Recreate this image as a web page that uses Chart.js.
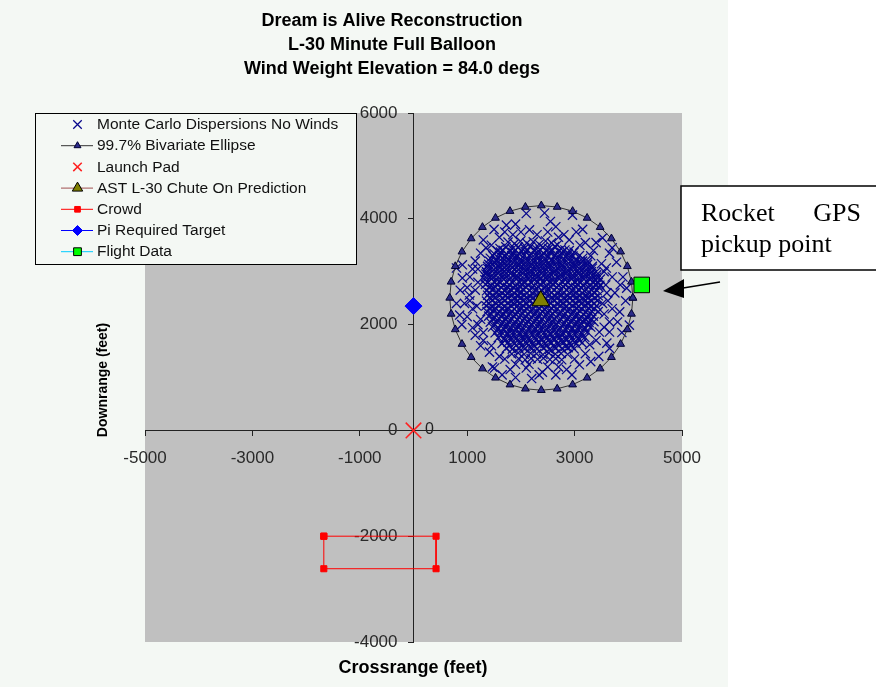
<!DOCTYPE html>
<html lang="en">
<head>
  <meta charset="UTF-8" />
  <title>Dream is Alive Reconstruction</title>
  <script src="https://cdn.jsdelivr.net/npm/chart.js"></script>
  <style>
    body { margin: 0; background: #fff; }
    #wrap { position: relative; width: 876px; height: 687px; }
  </style>
</head>
<body>
  <div id="wrap"><canvas id="chart" width="876" height="687"></canvas></div>

  <script>
    const titleLines = ['Dream is Alive Reconstruction', 'L-30 Minute Full Balloon', 'Wind Weight Elevation = 84.0 degs'];
    const xTitle = 'Crossrange (feet)';
    const yTitle = 'Downrange (feet)';
    const xTicks = [-5000, -3000, -1000, 1000, 3000, 5000];
    const yTicks = [-4000, -2000, 0, 2000, 4000, 6000];

    // Monte Carlo impact points (x = crossrange, y = downrange)
    const monteCarlo = [
      [1760,3560],[1880,3530],[1990,3575],[2110,3540],[2230,3565],[2340,3520],[2460,3580],[2570,3545],[2680,3510],
      [1610,3440],[1720,3470],[1840,3430],[1950,3465],[2070,3445],[2180,3480],[2290,3425],[2410,3460],[2520,3440],[2630,3475],[2750,3430],
      [1500,3340],[1620,3370],[1730,3335],[1850,3360],[1960,3345],[2080,3380],[2190,3330],[2300,3365],[2420,3350],[2530,3375],[2650,3335],[2760,3360],[2880,3345],[2990,3370],
      [1430,3255],[1540,3230],[1660,3265],[1770,3245],[1890,3275],[2000,3235],[2110,3260],[2230,3240],[2340,3270],[2450,3250],[2570,3230],[2680,3265],[2800,3245],[2910,3270],[3030,3235],[3150,3255],
      [1400,3140],[1510,3165],[1630,3150],[1740,3130],[1860,3170],[1970,3145],[2090,3160],[2200,3135],[2310,3165],[2430,3150],[2540,3140],[2660,3170],[2770,3135],[2890,3160],[3000,3145],[3120,3170],[3240,3140],
      [1380,3060],[1490,3035],[1610,3065],[1720,3045],[1840,3070],[1950,3040],[2060,3055],[2180,3030],[2290,3065],[2410,3050],[2520,3070],[2640,3040],[2750,3060],[2870,3035],[2980,3065],[3100,3050],[3210,3040],[3330,3065],
      [1350,2955],[1460,2935],[1580,2965],[1690,2945],[1810,2960],[1920,2930],[2040,2965],[2150,2950],[2270,2940],[2380,2960],[2500,2935],[2610,2965],[2730,2945],[2840,2960],[2960,2935],[3070,2955],[3190,2945],[3300,2965],[3410,2940],
      [1330,2845],[1450,2865],[1560,2840],[1680,2860],[1790,2850],[1910,2870],[2020,2835],[2140,2860],[2250,2845],[2370,2865],[2480,2850],[2600,2835],[2710,2865],[2830,2845],[2940,2860],[3060,2840],[3170,2865],[3290,2850],[3400,2840],[3480,2860],
      [1340,2760],[1440,2735],[1550,2765],[1670,2745],[1780,2755],[1900,2730],[2010,2765],[2130,2750],[2240,2740],[2360,2760],[2470,2735],[2590,2765],[2700,2745],[2820,2755],[2930,2735],[3050,2765],[3160,2750],[3280,2740],[3390,2760],[3470,2745],
      [1360,2640],[1470,2665],[1580,2650],[1700,2635],[1810,2660],[1930,2645],[2040,2670],[2160,2640],[2270,2655],[2390,2635],[2500,2665],[2620,2650],[2730,2640],[2850,2660],[2960,2645],[3080,2665],[3190,2635],[3310,2655],[3420,2645],
      [1380,2555],[1490,2535],[1610,2560],[1720,2545],[1840,2565],[1950,2540],[2070,2555],[2180,2530],[2300,2560],[2410,2545],[2530,2565],[2640,2535],[2760,2555],[2870,2540],[2990,2565],[3100,2550],[3220,2535],[3330,2560],[3440,2545],
      [1360,2445],[1470,2465],[1590,2440],[1700,2460],[1820,2450],[1930,2435],[2050,2465],[2160,2445],[2280,2460],[2390,2440],[2510,2455],[2620,2465],[2740,2435],[2850,2450],[2970,2460],[3080,2440],[3200,2465],[3310,2445],[3430,2455],
      [1350,2355],[1460,2335],[1580,2360],[1690,2345],[1810,2365],[1920,2340],[2040,2355],[2150,2330],[2270,2360],[2380,2345],[2500,2365],[2610,2340],[2730,2355],[2840,2335],[2960,2360],[3070,2345],[3190,2365],[3300,2340],[3410,2355],
      [1370,2245],[1480,2265],[1600,2240],[1710,2260],[1830,2250],[1940,2235],[2060,2265],[2170,2245],[2290,2255],[2400,2240],[2520,2265],[2630,2250],[2750,2235],[2860,2260],[2980,2245],[3090,2265],[3210,2240],[3320,2255],[3440,2245],
      [1400,2160],[1510,2135],[1630,2155],[1740,2145],[1860,2165],[1970,2140],[2090,2155],[2200,2130],[2320,2160],[2430,2145],[2550,2165],[2660,2140],[2780,2155],[2890,2135],[3010,2160],[3120,2150],[3240,2135],[3350,2160],
      [1430,2045],[1540,2065],[1660,2040],[1770,2060],[1890,2050],[2000,2035],[2120,2065],[2230,2045],[2350,2055],[2460,2040],[2580,2065],[2690,2050],[2810,2035],[2920,2060],[3040,2045],[3150,2065],[3270,2040],[3360,2055],
      [1470,1955],[1580,1935],[1700,1960],[1810,1945],[1930,1965],[2040,1940],[2160,1955],[2270,1930],[2390,1960],[2500,1945],[2620,1965],[2730,1940],[2850,1955],[2960,1935],[3080,1960],[3190,1945],[3300,1955],
      [1520,1845],[1630,1865],[1750,1840],[1860,1860],[1980,1850],[2090,1835],[2210,1865],[2320,1845],[2440,1855],[2550,1840],[2670,1865],[2780,1850],[2900,1835],[3010,1860],[3130,1845],[3240,1860],
      [1580,1755],[1690,1735],[1810,1760],[1920,1745],[2040,1765],[2150,1740],[2270,1755],[2380,1730],[2500,1760],[2610,1745],[2730,1765],[2840,1740],[2960,1755],[3070,1735],[3190,1760],
      [1650,1645],[1760,1665],[1880,1640],[1990,1660],[2110,1650],[2220,1635],[2340,1665],[2450,1645],[2570,1655],[2680,1640],[2800,1665],[2910,1650],[3030,1635],[3140,1655],
      [1730,1555],[1840,1535],[1960,1560],[2070,1545],[2190,1565],[2300,1540],[2420,1555],[2530,1530],[2650,1560],[2760,1545],[2880,1565],[2990,1540],
      [1830,1445],[1950,1465],[2060,1440],[2180,1460],[2290,1450],[2410,1435],[2520,1465],[2640,1445],[2750,1455],[2870,1440],
      [1960,1355],[2080,1335],[2190,1360],[2310,1345],[2420,1365],[2540,1340],[2650,1355],[2760,1335],
      [1560,3400],[1670,3405],[1790,3395],[1900,3410],[2010,3390],[2130,3405],[2240,3400],[2360,3410],[2470,3395],[2590,3405],[2700,3390],[2820,3410],[2900,3400],
      [1480,3300],[1600,3310],[1710,3295],[1830,3305],[1940,3290],[2060,3310],[2170,3300],[2290,3295],[2400,3310],[2510,3290],[2630,3305],[2740,3300],[2860,3310],[2970,3295],[3090,3305],
      [1420,3195],[1540,3205],[1650,3190],[1770,3210],[1880,3200],[2000,3195],[2110,3210],[2230,3190],[2340,3205],[2460,3200],[2570,3210],[2690,3195],[2800,3205],[2920,3190],[3030,3210],[3150,3200],[3250,3195],
      [1380,3100],[1500,3110],[1610,3095],[1730,3105],[1840,3090],[1960,3110],[2070,3100],[2190,3095],[2300,3110],[2420,3090],[2530,3105],[2650,3100],[2760,3110],[2880,3095],[2990,3105],[3110,3090],[3220,3110],[3330,3100],
      [1360,3000],[1470,3010],[1590,2995],[1700,3005],[1820,2990],[1930,3010],[2050,3000],[2160,2995],[2280,3010],[2390,2990],[2510,3005],[2620,3000],[2740,3010],[2850,2995],[2970,3005],[3080,2990],[3200,3010],[3310,3000],[3400,2995],
      [1340,2900],[1450,2910],[1570,2895],[1680,2905],[1800,2890],[1910,2910],[2030,2900],[2140,2895],[2260,2910],[2370,2890],[2490,2905],[2600,2900],[2720,2910],[2830,2895],[2950,2905],[3060,2890],[3180,2910],[3290,2900],[3410,2895],
      [1390,2800],[1500,2810],[1620,2795],[1730,2805],[1850,2790],[1960,2810],[2080,2800],[2190,2795],[2310,2810],[2420,2790],[2540,2805],[2650,2800],[2770,2810],[2880,2795],[3000,2805],[3110,2790],[3230,2810],[3340,2800],[3440,2795],
      [1410,2700],[1520,2710],[1640,2695],[1750,2705],[1870,2690],[1980,2710],[2100,2700],[2210,2695],[2330,2710],[2440,2690],[2560,2705],[2670,2700],[2790,2710],[2900,2695],[3020,2705],[3130,2690],[3250,2710],[3360,2700],[3450,2705],
      [1420,2600],[1530,2610],[1650,2595],[1760,2605],[1880,2590],[1990,2610],[2110,2600],[2220,2595],[2340,2610],[2450,2590],[2570,2605],[2680,2600],[2800,2610],[2910,2595],[3030,2605],[3140,2590],[3260,2610],[3370,2600],
      [1420,2500],[1530,2510],[1650,2495],[1760,2505],[1880,2490],[1990,2510],[2110,2500],[2220,2495],[2340,2510],[2450,2490],[2570,2505],[2680,2500],[2800,2510],[2910,2495],[3030,2505],[3140,2490],[3260,2510],[3370,2500],
      [1410,2400],[1520,2410],[1640,2395],[1750,2405],[1870,2390],[1980,2410],[2100,2400],[2210,2395],[2330,2410],[2440,2390],[2560,2405],[2670,2400],[2790,2410],[2900,2395],[3020,2405],[3130,2390],[3250,2410],[3360,2400],
      [1420,2300],[1530,2310],[1650,2295],[1760,2305],[1880,2290],[1990,2310],[2110,2300],[2220,2295],[2340,2310],[2450,2290],[2570,2305],[2680,2300],[2800,2310],[2910,2295],[3030,2305],[3140,2290],[3260,2310],[3370,2300],
      [1450,2200],[1560,2210],[1680,2195],[1790,2205],[1910,2190],[2020,2210],[2140,2200],[2250,2195],[2370,2210],[2480,2190],[2600,2205],[2710,2200],[2830,2210],[2940,2195],[3060,2205],[3170,2190],[3290,2210],
      [1480,2100],[1600,2110],[1710,2095],[1830,2105],[1940,2090],[2060,2110],[2170,2100],[2290,2095],[2400,2110],[2520,2090],[2630,2105],[2750,2100],[2860,2110],[2980,2095],[3090,2105],[3210,2090],[3310,2100],
      [1520,2000],[1640,2010],[1750,1995],[1870,2005],[1980,1990],[2100,2010],[2210,2000],[2330,1995],[2440,2010],[2560,1990],[2670,2005],[2790,2000],[2900,2010],[3020,1995],[3130,2005],[3250,1990],
      [1570,1900],[1690,1910],[1800,1895],[1920,1905],[2030,1890],[2150,1910],[2260,1900],[2380,1895],[2490,1910],[2610,1890],[2720,1905],[2840,1900],[2950,1910],[3070,1895],[3180,1905],
      [1630,1800],[1750,1810],[1860,1795],[1980,1805],[2090,1790],[2210,1810],[2320,1800],[2440,1795],[2550,1810],[2670,1790],[2780,1805],[2900,1800],[3010,1810],[3120,1795],
      [1700,1700],[1820,1710],[1930,1695],[2050,1705],[2160,1690],[2280,1710],[2390,1700],[2510,1695],[2620,1710],[2740,1690],[2850,1705],[2970,1700],[3080,1710],
      [1790,1600],[1910,1610],[2020,1595],[2140,1605],[2250,1590],[2370,1610],[2480,1600],[2600,1595],[2710,1610],[2830,1590],[2940,1605],
      [1730,3880],[2160,3790],[910,3130],[910,2880],[1360,2990],[2100,4100],[2440,4110],[2960,4070],[3030,3750],[3520,3640],
      [3590,3070],[3970,2690],[3780,3180],[1100,1940],[1415,1480],[1470,1200],[860,2180],[3650,1860],[3090,1240],[3280,1620],
      [3840,2240],[2400,1100],[3460,1860],[2100,1180],[1510,1180],[2340,1050],[4020,1990],[800,3070],[1040,2560],[1250,3350],
      [1150,3200],[1300,3600],[1500,3800],[1900,3900],[2650,3850],[2800,3700],[3200,3550],[3350,3400],[3650,3350],[3700,2900],
      [3750,2600],[3620,2450],[3800,2050],[3600,1650],[3450,1400],[3300,1300],[2850,1150],[2650,1050],[2200,980],[1800,1150],
      [1700,1350],[1250,1600],[1150,1800],[1000,2150],[950,2400],[1150,2650],[1050,2900],[1200,2800],[1180,2350],[1250,2100],
      [1300,1850],[3550,2200],[3580,2750],[3500,3150],[3400,3550],[2550,3950],[2300,3700],[1850,3700],[1450,3500],[1200,3050],
      [3900,2900],[3700,3450],[3150,3800],[1650,1050],[2950,1050],[3650,1550],[870,2650],[3880,1850],[1900,1000],
      [1000,2700],[1100,3050],[1350,3450],[1600,3650],[1700,3750],[2000,3750],[2500,3750],[2700,3650],[2900,3600],[3100,3500],
      [3300,3300],[3550,3000],[3600,2600],[3520,2400],[3700,2300],[3550,1950],[3400,1700],[3200,1450],[3000,1350],[2700,1200],
      [2500,1200],[2150,1250],[1900,1250],[1600,1400],[1450,1600],[1300,1700],[1200,2000],[1100,2300],[1050,2450],[3650,2050],
      [3950,2450],[3850,2750],[800,2400],[900,2000]
    ];

    // 99.7% bivariate ellipse, one vertex every 10 degrees
    const ellipseX = [4085,4059,3982,3857,3686,3476,3233,2963,2676,2380,2084,1797,1527,1284,1074,903,778,701,675,
                      701,778,903,1074,1284,1527,1797,2084,2380,2676,2963,3233,3476,3686,3857,3982,4059,4085];
    const ellipseY = [2505,2808,3102,3378,3627,3842,4016,4145,4223,4250,4223,4145,4016,3842,3627,3378,3102,2808,2505,
                      2202,1908,1632,1383,1168,994,865,787,760,787,865,994,1168,1383,1632,1908,2202,2505];

    const launchPad = [0, 0];
    const chutePrediction = [2370, 2450];
    const crowdX = [-1670, 420, 420, -1670, -1670];
    const crowdY = [-2000, -2000, -2615, -2615, -2000];
    const piTarget = [0, 2350];
    const flightData = [4250, 2750];

    const pts = (xs, ys) => xs.map((x, i) => ({ x, y: ys[i] }));

    const datasets = [
      {
        label: 'Monte Carlo Dispersions No Winds',
        data: monteCarlo.map(([x, y]) => ({ x, y })),
        showLine: false, pointStyle: 'crossRot', pointRadius: 6.5, borderWidth: 1.25,
        borderColor: '#06068c', backgroundColor: '#06068c',
        order: 7, legendRadius: 6
      },
      {
        label: '99.7% Bivariate Ellipse',
        data: pts(ellipseX, ellipseY),
        showLine: true, borderColor: '#333', borderWidth: 1,
        pointStyle: 'triangle', pointRadius: 4.5, pointBackgroundColor: '#2a2a88', pointBorderColor: '#000033', pointBorderWidth: 1,
        order: 6, legendRadius: 4
      },
      {
        label: 'Launch Pad',
        data: [{ x: launchPad[0], y: launchPad[1] }],
        showLine: false, pointStyle: 'crossRot', pointRadius: 11, borderWidth: 1.5,
        borderColor: '#ff2020', backgroundColor: '#ff2020',
        order: 5, legendRadius: 6, valueLabel: true
      },
      {
        label: 'AST L-30 Chute On Prediction',
        data: [{ x: chutePrediction[0], y: chutePrediction[1] }],
        showLine: true, borderColor: '#a0504f', borderWidth: 1,
        pointStyle: 'triangle', pointRadius: 10, pointBackgroundColor: '#808000', pointBorderColor: '#000', pointBorderWidth: 1,
        order: 1, legendRadius: 6
      },
      {
        label: 'Crowd',
        data: pts(crowdX, crowdY),
        showLine: true, borderColor: '#ff0000', borderWidth: 1,
        pointStyle: 'rect', pointRadius: 4.3, pointBackgroundColor: '#ff0000', pointBorderColor: '#ff0000', pointBorderWidth: 1,
        order: 4, legendRadius: 4
      },
      {
        label: 'Pi Required Target',
        data: [{ x: piTarget[0], y: piTarget[1] }],
        showLine: true, borderColor: '#0000ff', borderWidth: 1,
        pointStyle: 'rectRot', pointRadius: 8.5, pointBackgroundColor: '#0000ff', pointBorderColor: '#0000ff', pointBorderWidth: 1,
        order: 3, legendRadius: 5
      },
      {
        label: 'Flight Data',
        data: [{ x: flightData[0], y: flightData[1] }],
        showLine: true, borderColor: '#00ccff', borderWidth: 1,
        pointStyle: 'rect', pointRadius: 11, pointBackgroundColor: '#00ff00', pointBorderColor: '#000', pointBorderWidth: 1,
        order: 2, legendRadius: 5.5
      }
    ];

    const BG = '#f4f8f4';

    // page background, pale panel and the grey plot area
    const backdrop = {
      id: 'backdrop',
      beforeDraw(chart) {
        const { ctx, chartArea: a } = chart;
        ctx.save();
        ctx.fillStyle = '#fff';
        ctx.fillRect(0, 0, chart.width, chart.height);
        ctx.fillStyle = BG;
        ctx.fillRect(0, 0, 728, chart.height);
        ctx.fillStyle = '#c0c0c0';
        ctx.fillRect(a.left, a.top, a.right - a.left, a.bottom - a.top);
        ctx.restore();

        // y labels sit left of the tick marks, not on the axis line
        const xZero = chart.scales.x.getPixelForValue(0);
        chart.scales.y.getLabelItems().forEach(item => { item.options.translation[0] = xZero - 16; });
      }
    };

    function marker(ctx, ds, x, y, r) {
      ctx.fillStyle = ds.pointBackgroundColor || ds.backgroundColor;
      ctx.strokeStyle = ds.pointBorderColor || ds.borderColor;
      ctx.lineWidth = ds.pointBorderWidth || ds.borderWidth || 1;
      Chart.helpers.drawPoint(ctx, { pointStyle: ds.pointStyle, rotation: 0, radius: r, borderWidth: ctx.lineWidth }, x, y);
    }

    // titles, legend box, value label and the callout
    const decorations = {
      id: 'decorations',
      afterDraw(chart) {
        const { ctx } = chart;
        ctx.save();

        ctx.fillStyle = '#000';
        ctx.textAlign = 'center';
        ctx.textBaseline = 'middle';
        ctx.font = 'bold 18px "Liberation Sans", Arial, sans-serif';
        titleLines.forEach((t, i) => ctx.fillText(t, 392, 21 + i * 24));
        ctx.fillText(xTitle, 413, 668);

        ctx.save();
        ctx.translate(103, 380);
        ctx.rotate(-Math.PI / 2);
        ctx.font = 'bold 14px "Liberation Sans", Arial, sans-serif';
        ctx.fillText(yTitle, 0, 0);
        ctx.restore();

        // data label next to the launch pad
        chart.data.datasets.forEach((ds, i) => {
          if (!ds.valueLabel) return;
          const meta = chart.getDatasetMeta(i);
          meta.data.forEach((el, j) => {
            ctx.font = '16px "Liberation Sans", Arial, sans-serif';
            ctx.fillStyle = '#222';
            ctx.fillText(String(ds.data[j].x), el.x + 16, el.y - 1);
          });
        });

        // legend
        ctx.fillStyle = BG;
        ctx.fillRect(35, 113, 322, 152);
        ctx.strokeStyle = '#000';
        ctx.lineWidth = 1;
        ctx.strokeRect(35.5, 113.5, 321, 151);
        chart.data.datasets.forEach((ds, i) => {
          const y = 124.5 + i * 21.2;
          if (ds.showLine) {
            ctx.strokeStyle = ds.borderColor;
            ctx.lineWidth = 1;
            ctx.beginPath();
            ctx.moveTo(61, y);
            ctx.lineTo(93, y);
            ctx.stroke();
          }
          marker(ctx, ds, 77.5, y, ds.legendRadius);
          ctx.fillStyle = '#111';
          ctx.font = '15.5px "Liberation Sans", Arial, sans-serif';
          ctx.textAlign = 'left';
          ctx.fillText(ds.label, 97, y + 0.5);
        });

        // callout box and arrow
        ctx.fillStyle = '#fff';
        ctx.fillRect(681, 186, 200, 84);
        ctx.strokeStyle = '#000';
        ctx.lineWidth = 1.5;
        ctx.strokeRect(681, 186, 200, 84);
        ctx.fillStyle = '#000';
        ctx.font = '26px "Liberation Serif", "Times New Roman", serif';
        ctx.textBaseline = 'alphabetic';
        ctx.textAlign = 'left';
        ctx.fillText('Rocket', 701, 221);
        ctx.fillText('pickup point', 701, 252);
        ctx.textAlign = 'right';
        ctx.fillText('GPS', 861, 221);

        ctx.lineWidth = 1.5;
        ctx.beginPath();
        ctx.moveTo(720, 282);
        ctx.lineTo(680, 288.5);
        ctx.stroke();
        ctx.beginPath();
        ctx.moveTo(663, 291);
        ctx.lineTo(684, 279);
        ctx.lineTo(684, 298);
        ctx.closePath();
        ctx.fill();

        ctx.restore();
      }
    };

    const tickFont = { family: '"Liberation Sans", Arial, sans-serif', size: 17 };
    const plain = v => String(v);

    new Chart(document.getElementById('chart'), {
      type: 'scatter',
      data: { datasets },
      options: {
        responsive: false,
        animation: false,
        layout: { autoPadding: false, padding: { left: 145, right: 194, top: 113, bottom: 45 } },
        plugins: { legend: { display: false }, title: { display: false }, tooltip: { enabled: false } },
        scales: {
          x: {
            type: 'linear', min: -5000, max: 5000,
            position: { y: 0 },
            afterBuildTicks: s => { s.ticks = xTicks.map(v => ({ value: v })); },
            grid: { display: true, drawOnChartArea: false, drawTicks: true, tickLength: 5, color: '#222' },
            border: { display: true, color: '#222', width: 1 },
            ticks: { color: '#2a2a2a', font: tickFont, padding: 13, maxRotation: 0, autoSkip: false, callback: plain }
          },
          y: {
            type: 'linear', min: -4000, max: 6000,
            position: { x: 0 },
            afterBuildTicks: s => { s.ticks = yTicks.map(v => ({ value: v })); },
            grid: { display: true, drawOnChartArea: false, drawTicks: true, tickLength: 5, color: '#222' },
            border: { display: true, color: '#222', width: 1 },
            ticks: { color: '#2a2a2a', font: tickFont, padding: 10, autoSkip: false, callback: plain }
          }
        }
      },
      plugins: [backdrop, decorations]
    });
  </script>
</body>
</html>
